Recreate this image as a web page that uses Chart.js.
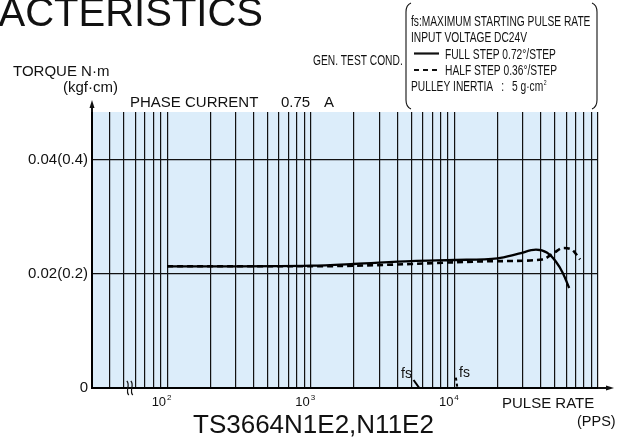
<!DOCTYPE html>
<html lang="en">
  <head>
    <meta charset="UTF-8" />
    <script src="https://cdn.jsdelivr.net/npm/chart.js@4.4.0/dist/chart.umd.min.js"></script>
    <title>TS3664N1E2,N11E2</title>
    <style>
      body { margin: 0; background: #fff; }
    </style>
  </head>
  <body>
    <canvas id="myChart" width="626" height="438"></canvas>
    <script>
      // pulse rate (pps) -> torque (N·m)
      const fullX = [100, 300, 1000, 2000, 5000, 10000, 20000, 28000, 37000, 44000, 51000, 57000, 63000];
      const fullY = [0.0213, 0.0213, 0.0214, 0.0217, 0.0222, 0.0224, 0.0227, 0.0235, 0.0242, 0.0237, 0.0221, 0.0201, 0.0175];
      const halfX = [100, 300, 1000, 2000, 5000, 10000, 20000, 41000, 49000, 57000, 65000, 75000];
      const halfY = [0.0213, 0.0213, 0.0213, 0.0214, 0.0217, 0.022, 0.0222, 0.0225, 0.0236, 0.0245, 0.0243, 0.0225];
      // short bits of the starting curves near fs
      const fsFullX = [5200, 5700];
      const fsFullY = [0.0014, 0];
      const fsHalfX = [10250, 10500];
      const fsHalfY = [0.0018, 0];

      const xGrid = [30, 40, 50, 60, 70, 80, 90, 100, 200, 300, 400, 500, 600, 700, 800, 900,
        1000, 2000, 3000, 4000, 5000, 6000, 7000, 8000, 9000,
        10000, 20000, 30000, 40000, 50000, 60000, 70000, 80000, 90000, 100000];
      const xLabelValues = [100, 1000, 10000];
      const xLabelExp = ["2", "3", "4"];
      const yTicks = [0, 0.02, 0.04];
      const yLabels = ["0", "0.02(0.2)", "0.04(0.4)"];

      const F = '"Liberation Sans", Arial, sans-serif';
      const bg = "rgb(220,237,250)";
      const narrow = 0.73; // condensed lettering of the test-condition box

      function pts(xs, ys) {
        return xs.map((x, i) => ({ x: x, y: ys[i] }));
      }

      function txt(ctx, s, x, y, size, maxW, align) {
        ctx.font = size + "px " + F;
        ctx.textAlign = align || "left";
        ctx.textBaseline = "alphabetic";
        if (maxW) ctx.fillText(s, x, y, maxW);
        else ctx.fillText(s, x, y);
      }

      // squeezed text, left aligned
      function ntxt(ctx, s, x, y, size) {
        ctx.save();
        ctx.font = size + "px " + F;
        ctx.textAlign = "left";
        ctx.textBaseline = "alphabetic";
        ctx.translate(x, y);
        ctx.scale(narrow, 1);
        ctx.fillText(s, 0, 0);
        const w = ctx.measureText(s).width * narrow;
        ctx.restore();
        return x + w;
      }

      const decor = {
        id: "decor",
        beforeDraw(chart) {
          const a = chart.chartArea;
          const ctx = chart.ctx;
          ctx.save();
          ctx.fillStyle = bg;
          ctx.fillRect(a.left, a.top, a.right - a.left, a.bottom - a.top);
          ctx.restore();
        },
        afterDraw(chart) {
          const ctx = chart.ctx;
          const a = chart.chartArea;
          const xs = chart.scales.x;
          ctx.save();
          ctx.fillStyle = "#111";
          ctx.strokeStyle = "#111";

          // axis arrows
          ctx.lineWidth = 2;
          ctx.beginPath();
          ctx.moveTo(a.left, a.top);
          ctx.lineTo(a.left, 106);
          ctx.moveTo(a.right, a.bottom);
          ctx.lineTo(608, a.bottom);
          ctx.stroke();
          ctx.beginPath();
          ctx.moveTo(a.left, 100);
          ctx.lineTo(a.left - 2.5, 108);
          ctx.lineTo(a.left + 2.5, 108);
          ctx.closePath();
          ctx.fill();
          ctx.beginPath();
          ctx.moveTo(614, a.bottom);
          ctx.lineTo(606, a.bottom - 2.5);
          ctx.lineTo(606, a.bottom + 2.5);
          ctx.closePath();
          ctx.fill();

          // axis break mark
          const bx = xs.getPixelForValue(55);
          ctx.lineWidth = 1.2;
          [-2, 2].forEach((d) => {
            ctx.beginPath();
            ctx.moveTo(bx + d - 1, a.bottom - 7);
            ctx.bezierCurveTo(bx + d + 3, a.bottom - 3, bx + d - 3, a.bottom + 3, bx + d + 1, a.bottom + 7);
            ctx.stroke();
          });

          // x tick labels 10^n
          xLabelValues.forEach((v, i) => {
            const px = xs.getPixelForValue(v);
            txt(ctx, "10", px - 1, 406, 13, null, "right");
            txt(ctx, xLabelExp[i], px, 400, 8, null, "left");
          });

          // title and axis texts
          txt(ctx, "ACTERISTICS", 263, 26, 40, null, "right");
          txt(ctx, "TORQUE N·m", 13, 75.5, 15, 99);
          txt(ctx, "(kgf·cm)", 63, 92, 15, 56);
          txt(ctx, "PHASE CURRENT", 130, 107, 15, 137);
          txt(ctx, "0.75", 281, 107, 15, 30);
          txt(ctx, "A", 324, 107, 15);
          txt(ctx, "PULSE RATE", 502, 408, 15, 96);
          txt(ctx, "(PPS)", 577, 426, 14.5, 40);
          txt(ctx, "TS3664N1E2,N11E2", 193, 433, 26, 248);

          // fs markers
          txt(ctx, "fs", 401, 377.5, 14, 12);
          txt(ctx, "fs", 459, 376.5, 14, 12);

          // test conditions box
          ntxt(ctx, "GEN. TEST COND.", 313, 64.5, 14);
          ctx.lineWidth = 1.1;
          ctx.beginPath();
          ctx.moveTo(411, 3);
          ctx.quadraticCurveTo(406, 5, 406, 12);
          ctx.lineTo(406, 100);
          ctx.quadraticCurveTo(406, 107, 411, 109);
          ctx.moveTo(592, 3);
          ctx.quadraticCurveTo(597, 5, 597, 12);
          ctx.lineTo(597, 100);
          ctx.quadraticCurveTo(597, 107, 592, 109);
          ctx.stroke();

          ntxt(ctx, "fs:MAXIMUM STARTING PULSE RATE", 411, 25.5, 14);
          ntxt(ctx, "INPUT VOLTAGE DC24V", 411, 41.5, 14);
          ntxt(ctx, "FULL STEP 0.72°/STEP", 445, 58.5, 14);
          ntxt(ctx, "HALF STEP 0.36°/STEP", 445, 75, 14);
          let px = ntxt(ctx, "PULLEY INERTIA", 411, 91, 14);
          px = ntxt(ctx, ":", px + 8, 91, 14);
          px = ntxt(ctx, "5 g·cm", px + 8, 91, 14);
          ntxt(ctx, "2", px + 0.5, 85, 7);

          ctx.lineWidth = 2.2;
          ctx.beginPath();
          ctx.moveTo(414, 53.5);
          ctx.lineTo(439, 53.5);
          ctx.stroke();
          ctx.setLineDash([5, 4]);
          ctx.beginPath();
          ctx.moveTo(414, 70);
          ctx.lineTo(439, 70);
          ctx.stroke();
          ctx.restore();
        },
      };

      const gridStyle = { color: "#111", lineWidth: 1.2, drawTicks: false };

      var ctx = document.getElementById("myChart");
      var myChart = new Chart(ctx, {
        type: "line",
        data: {
          datasets: [
            {
              label: "FULL STEP 0.72°/STEP",
              data: pts(fullX, fullY),
              borderColor: "#000",
              borderWidth: 2.3,
              pointRadius: 0,
              cubicInterpolationMode: "monotone",
            },
            {
              label: "HALF STEP 0.36°/STEP",
              data: pts(halfX, halfY),
              borderColor: "#000",
              borderWidth: 2.6,
              borderDash: [6, 4],
              pointRadius: 0,
              cubicInterpolationMode: "monotone",
            },
            {
              label: "fs full",
              data: pts(fsFullX, fsFullY),
              borderColor: "#000",
              borderWidth: 2,
              pointRadius: 0,
            },
            {
              label: "fs half",
              data: pts(fsHalfX, fsHalfY),
              borderColor: "#000",
              borderWidth: 2,
              borderDash: [3, 3],
              pointRadius: 0,
            },
          ],
        },
        options: {
          responsive: false,
          animation: false,
          layout: { padding: { left: 0, right: 28, top: 112, bottom: 0 } },
          plugins: {
            legend: { display: false },
            tooltip: { enabled: false },
          },
          scales: {
            x: {
              type: "logarithmic",
              min: 30,
              max: 100000,
              afterBuildTicks: (s) => {
                s.ticks = xGrid.map((v) => ({ value: v }));
              },
              afterFit: (s) => {
                s.height = 50;
              },
              ticks: { display: false },
              grid: gridStyle,
              border: { color: "#000", width: 2 },
            },
            y: {
              min: 0,
              max: 0.0483,
              afterBuildTicks: (s) => {
                s.ticks = yTicks.map((v) => ({ value: v }));
              },
              afterFit: (s) => {
                s.width = 92;
              },
              ticks: {
                callback: (v, i) => yLabels[i],
                color: "#111",
                font: { family: F, size: 15 },
                padding: 4,
              },
              grid: gridStyle,
              border: { color: "#000", width: 2 },
            },
          },
        },
        plugins: [decor],
      });
    </script>
  </body>
</html>
